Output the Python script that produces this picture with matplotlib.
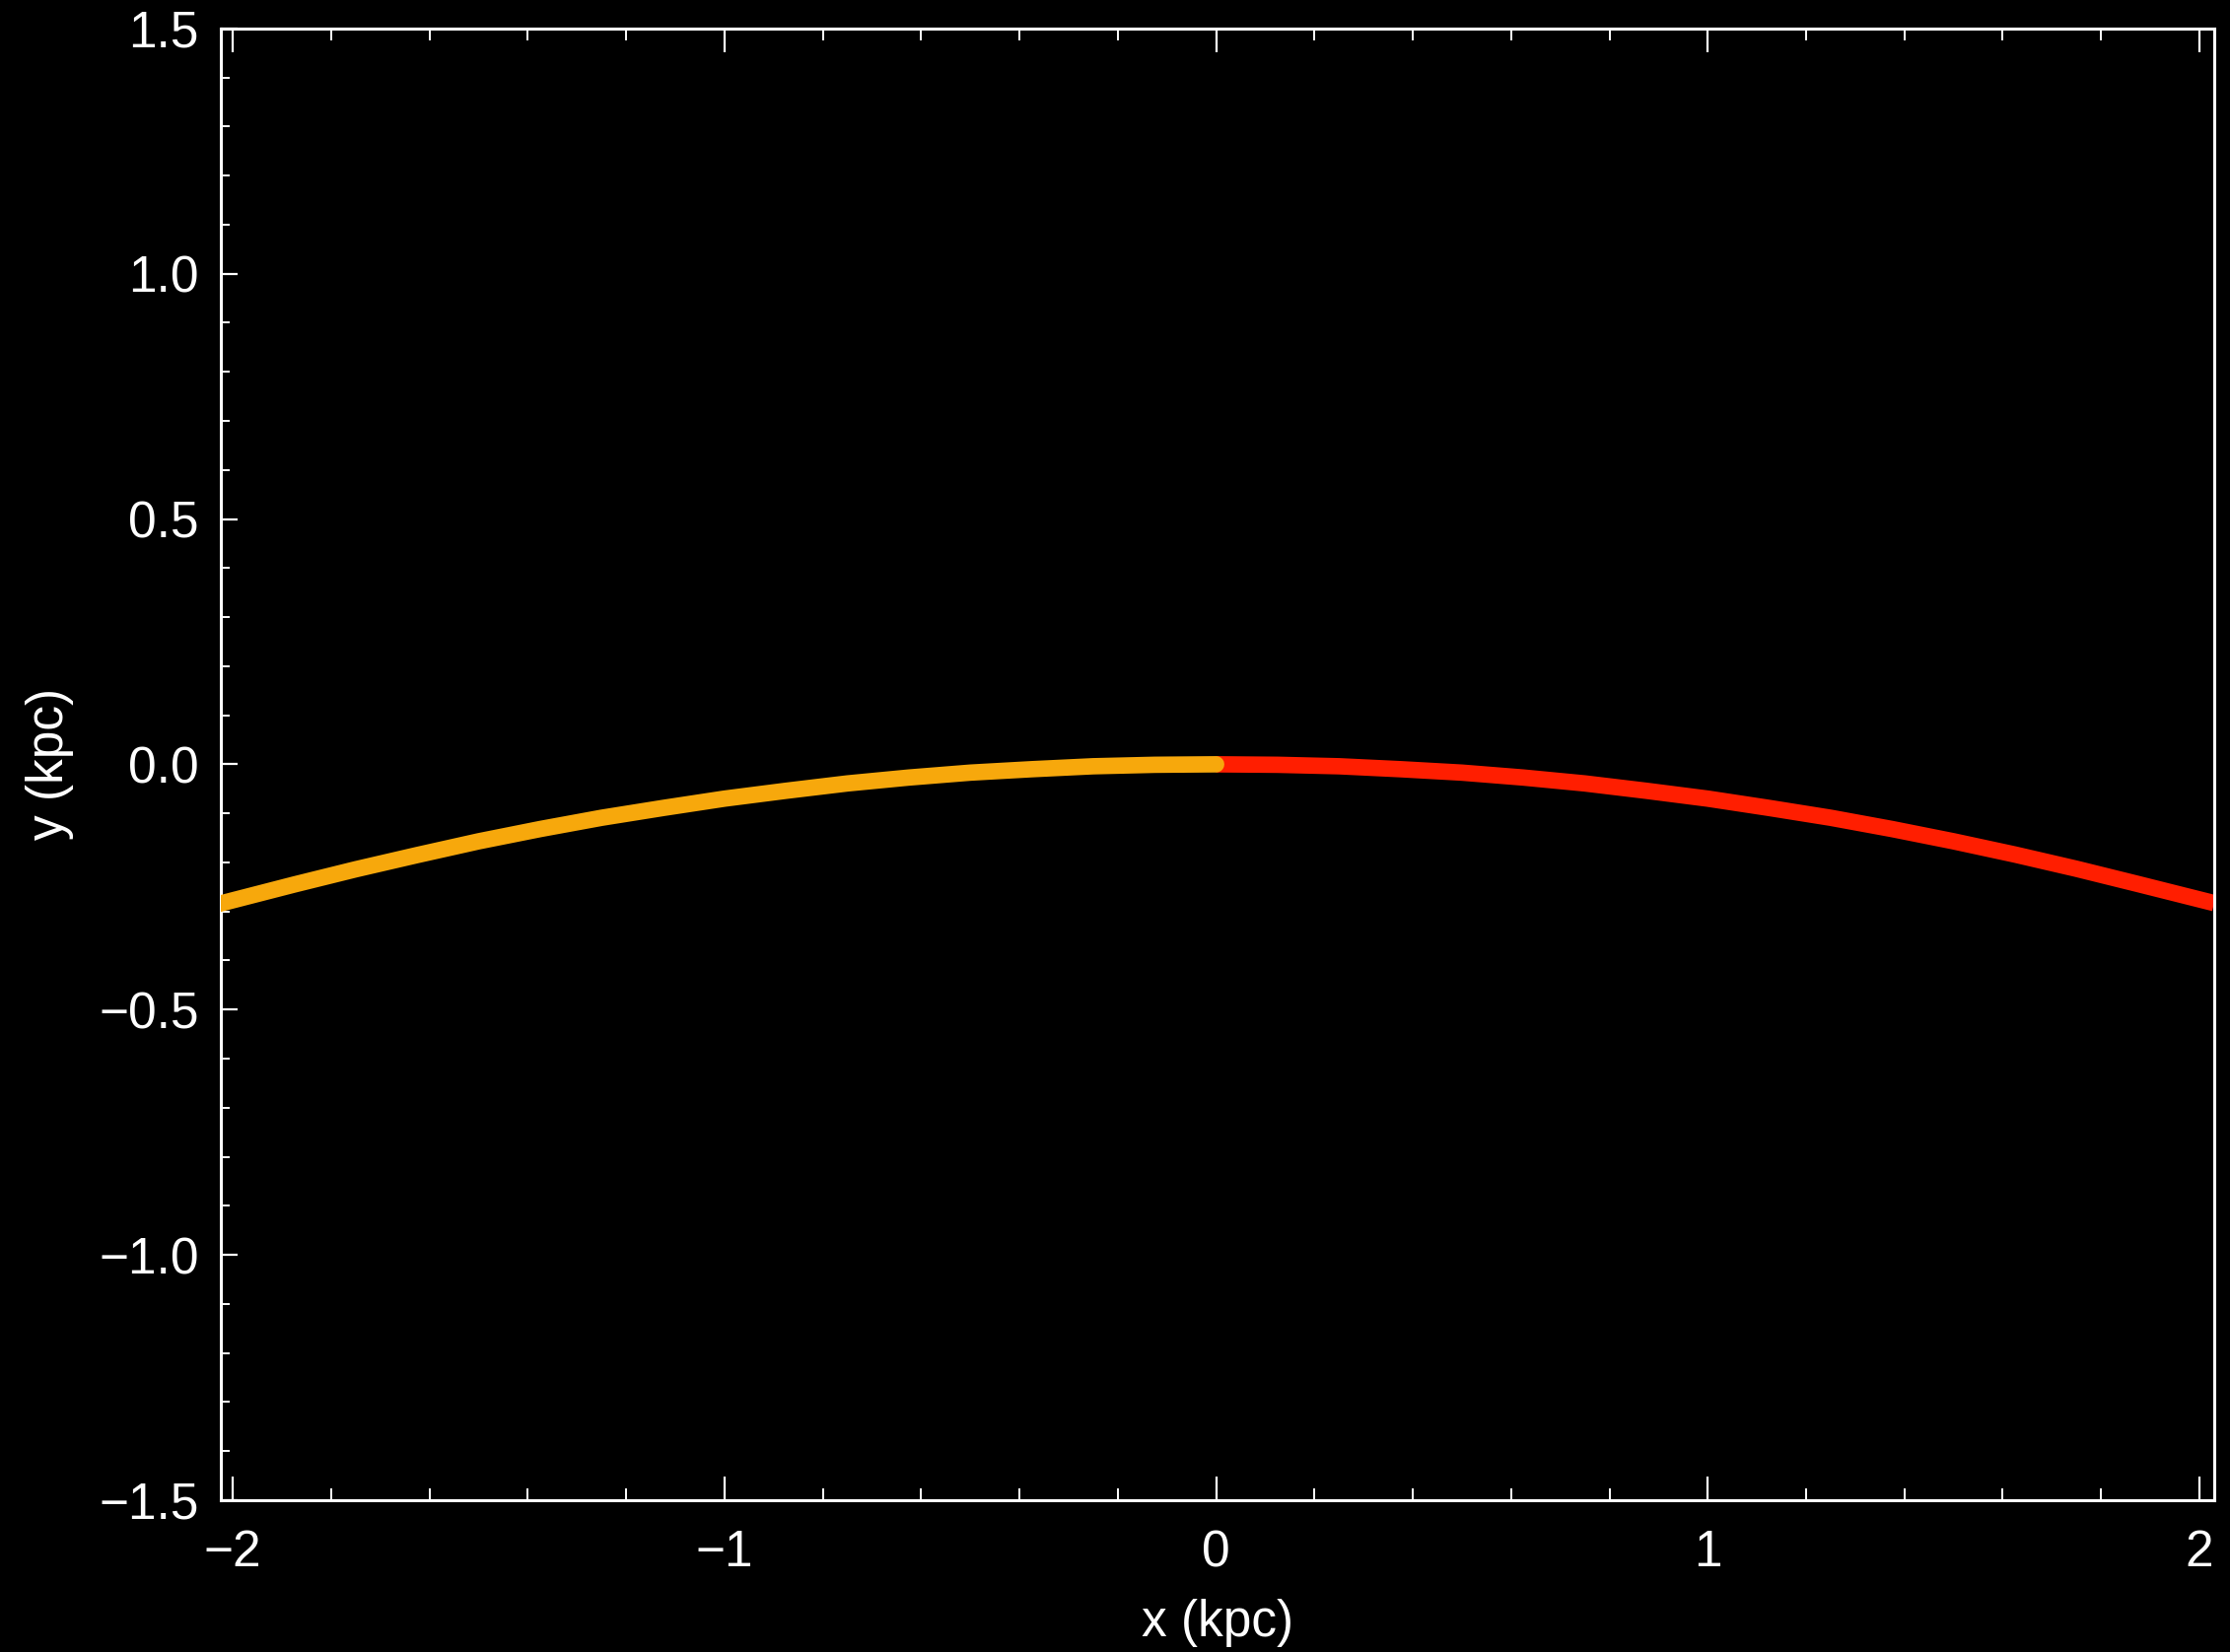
import numpy as np
import matplotlib
matplotlib.use("Agg")
import matplotlib.pyplot as plt
from matplotlib.ticker import MultipleLocator

# arc sampled along x (kpc), left half and right half of the orbit
x_left = [-2.03, -1.875, -1.75, -1.625, -1.5, -1.375, -1.25, -1.125, -1.0,
          -0.875, -0.75, -0.625, -0.5, -0.375, -0.25, -0.125, 0.0]
y_left = [-0.285, -0.245, -0.214, -0.185, -0.157, -0.132, -0.109, -0.089, -0.070,
          -0.054, -0.039, -0.027, -0.017, -0.010, -0.004, -0.001, 0.0]
x_right = [0.0, 0.125, 0.25, 0.375, 0.5, 0.625, 0.75, 0.875, 1.0,
           1.125, 1.25, 1.375, 1.5, 1.625, 1.75, 1.875, 2.03]
y_right = [0.0, -0.001, -0.004, -0.010, -0.017, -0.027, -0.039, -0.054, -0.070,
           -0.089, -0.109, -0.132, -0.157, -0.184, -0.213, -0.244, -0.283]

x_ticks = [-2, -1, 0, 1, 2]
y_ticks = [-1.5, -1.0, -0.5, 0.0, 0.5, 1.0, 1.5]

plt.rcParams['font.family'] = ['Liberation Sans', 'DejaVu Sans']

fig = plt.figure(figsize=(22.62, 16.76), dpi=100, facecolor='black')
ax = fig.add_axes([0.0989, 0.0919, 0.894, 0.8909], facecolor='black')

ax.plot(x_right, y_right, color='#FF1E00', lw=12, solid_capstyle='butt',
        solid_joinstyle='round', zorder=2)
ax.plot(x_left, y_left, color='#F7A80C', lw=12, solid_capstyle='round',
        solid_joinstyle='round', zorder=3)

ax.set_xlim(-2.025, 2.03)
ax.set_ylim(-1.5, 1.5)

ax.set_xticks(x_ticks)
ax.set_xticklabels(['\u22122', '\u22121', '0', '1', '2'])
ax.set_yticks(y_ticks)
ax.set_yticklabels(['\u22121.5', '\u22121.0', '\u22120.5', '0.0', '0.5', '1.0', '1.5'])
ax.xaxis.set_minor_locator(MultipleLocator(0.2))
ax.yaxis.set_minor_locator(MultipleLocator(0.1))

for s in ax.spines.values():
    s.set_color('white')
    s.set_linewidth(2.2)

ax.tick_params(axis='x', which='major', direction='in', length=17, width=1.6,
               color='white', labelcolor='white', labelsize=37, pad=21,
               top=True, bottom=True)
ax.tick_params(axis='x', which='minor', direction='in', length=8.5, width=1.4,
               color='white', top=True, bottom=True)
ax.tick_params(axis='y', which='major', direction='in', length=12, width=1.6,
               color='white', labelcolor='white', labelsize=37, pad=16,
               left=True, right=False)
ax.tick_params(axis='y', which='minor', direction='in', length=6.5, width=1.4,
               color='white', left=True, right=False)

ax.set_xlabel('x (kpc)', color='white', fontsize=37, labelpad=16)
ax.set_ylabel('y (kpc)', color='white', fontsize=37, labelpad=18)

fig.savefig('out.png', dpi=100, facecolor='black')
